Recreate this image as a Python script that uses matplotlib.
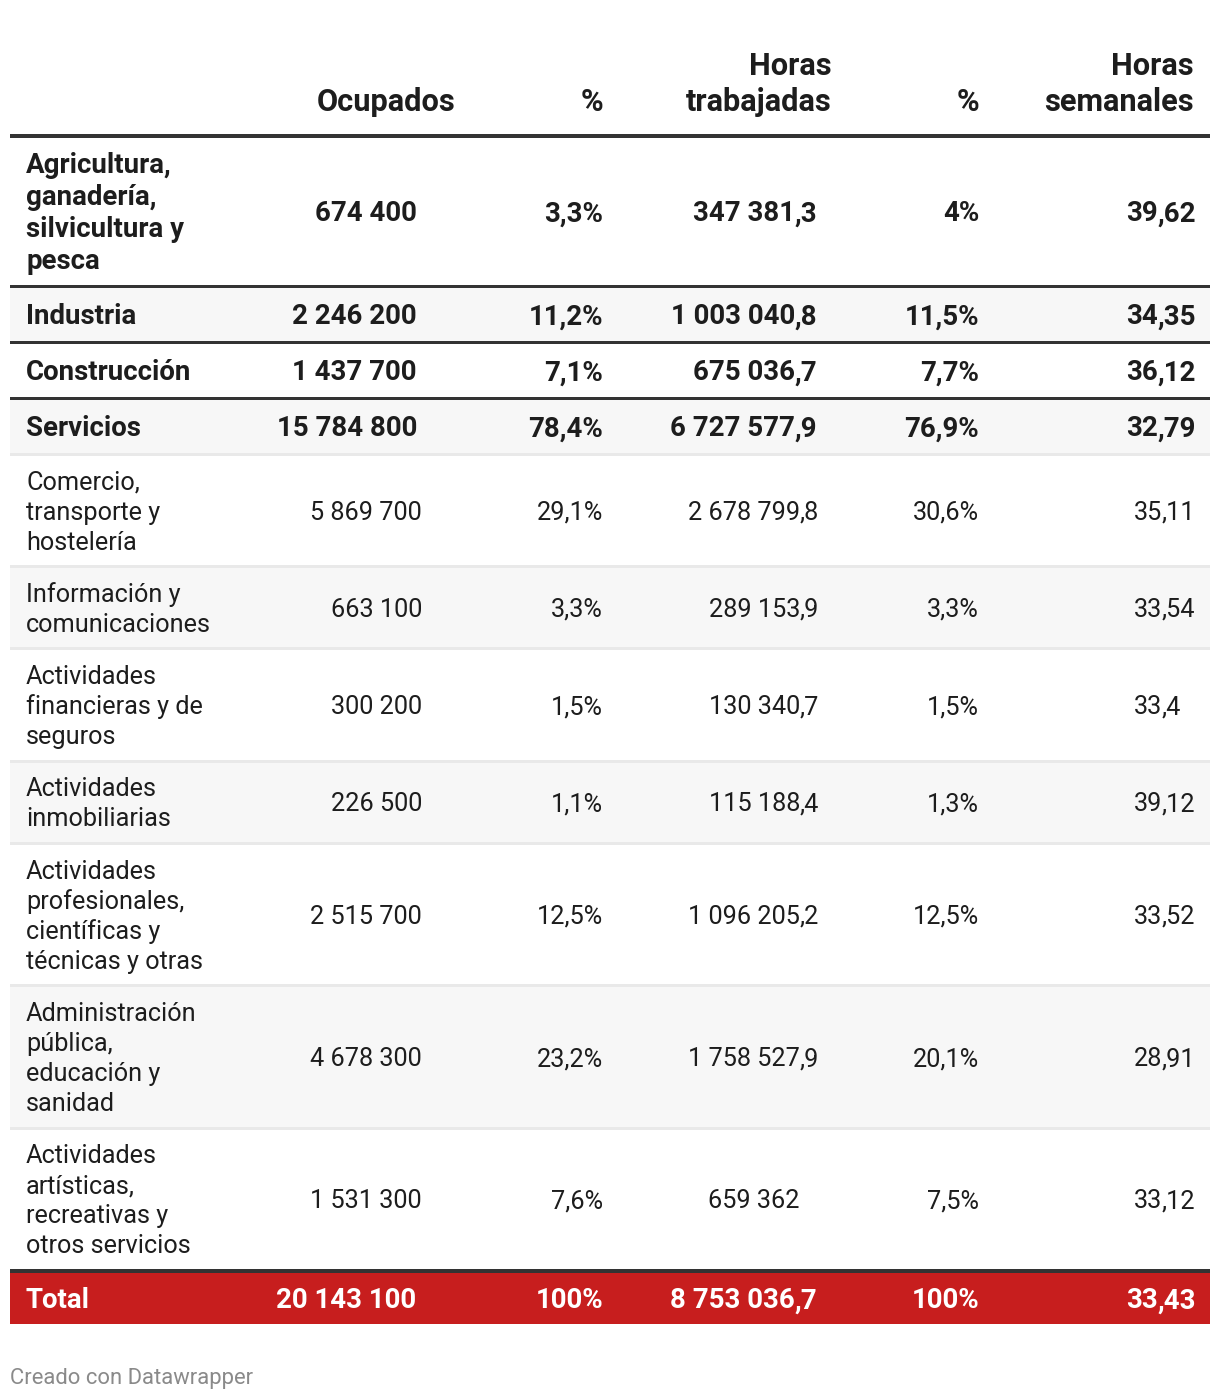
import matplotlib
matplotlib.use("Agg")
import matplotlib.pyplot as plt
from matplotlib.patches import Rectangle

# ---------------- data ----------------
sectores = [
    "Agricultura,\nganadería,\nsilvicultura y\npesca",
    "Industria",
    "Construcción",
    "Servicios",
    "Comercio,\ntransporte y\nhostelería",
    "Información y\ncomunicaciones",
    "Actividades\nfinancieras y de\nseguros",
    "Actividades\ninmobiliarias",
    "Actividades\nprofesionales,\ncientíficas y\ntécnicas y otras",
    "Administración\npública,\neducación y\nsanidad",
    "Actividades\nartísticas,\nrecreativas y\notros servicios",
]
es_sector = [True, True, True, True, False, False, False, False, False, False, False]
ocupados = [674400, 2246200, 1437700, 15784800, 5869700, 663100, 300200, 226500,
            2515700, 4678300, 1531300]
pct_ocupados = [3.3, 11.2, 7.1, 78.4, 29.1, 3.3, 1.5, 1.1, 12.5, 23.2, 7.6]
horas_trabajadas = [347381.3, 1003040.8, 675036.7, 6727577.9, 2678799.8, 289153.9,
                    130340.7, 115188.4, 1096205.2, 1758527.9, 659362]
pct_horas = [4, 11.5, 7.7, 76.9, 30.6, 3.3, 1.5, 1.3, 12.5, 20.1, 7.5]
horas_semanales = [39.62, 34.35, 36.12, 32.79, 35.11, 33.54, 33.4, 39.12, 33.52,
                   28.91, 33.12]
total_label = "Total"
total_values = [20143100, 100, 8753036.7, 100, 33.43]
headers = ["Ocupados", "%", "Horas\ntrabajadas", "%", "Horas\nsemanales"]
footer = "Creado con Datawrapper"


def fmt(v):
    s = f"{v:,.2f}"
    if "." in s:
        s = s.rstrip("0").rstrip(".")
    return s.replace(",", " ").replace(".", ",")


# ---------------- style ----------------
FONT = "Roboto"
TXT = "#1d1d1d"
RULE = "#333333"
GRAY_BG = "#f7f7f7"
LIGHT_SEP = "#e9e9e9"
RED = "#c71e1e"

PX = 72 / 100  # px -> pt at dpi 100
FS_HEAD = 30.8 * PX
FS_BOLD = 27.6 * PX
FS_REG = 25.2 * PX
CAP = 0.711

fig = plt.figure(figsize=(12.2, 14), dpi=100)
ax = fig.add_axes([0, 0, 1, 1])
ax.set_xlim(0, 1220)
ax.set_ylim(1400, 0)
ax.axis("off")

X0, X1 = 10, 1210
LABEL_X = 26


def rect(y0, y1, color, z=1):
    ax.add_patch(Rectangle((X0, y0), X1 - X0, y1 - y0, facecolor=color,
                           edgecolor="none", zorder=z))


def put_lines(x, yc, text, fs, weight, ha, color=TXT, lh=30):
    lines = text.split("\n")
    n = len(lines)
    for i, ln in enumerate(lines):
        c = yc + (i - (n - 1) / 2) * lh
        base = c + CAP * fs / PX / 2
        ax.text(x, base, ln, fontsize=fs, fontweight=weight, ha=ha,
                va="baseline", color=color, family=FONT)


def put_dec(xdec, base, s, fs, weight, color=TXT):
    if "," in s:
        ip, dp = s.split(",")
        ax.text(xdec, base, ip, fontsize=fs, fontweight=weight, ha="right",
                va="baseline", color=color, family=FONT)
        ax.text(xdec, base, "," + dp, fontsize=fs, fontweight=weight, ha="left",
                va="baseline", color=color, family=FONT)
    else:
        ax.text(xdec, base, s, fontsize=fs, fontweight=weight, ha="right",
                va="baseline", color=color, family=FONT)


# header
head_right = [455, 603, 832, 979, 1194]
for h, xr in zip(headers, head_right):
    lines = h.split("\n")
    for i, ln in enumerate(reversed(lines)):
        ax.text(xr, 111 - i * 36, ln, fontsize=FS_HEAD, fontweight="bold",
                ha="right", va="baseline", color=TXT, family=FONT)
rect(134, 138, RULE, 3)

# body
y = 138
for i, lab in enumerate(sectores):
    n = lab.count("\n") + 1
    bold = es_sector[i]
    if bold:
        h = 21.7 + 31.3 * n
        lh = 32
        fs = FS_BOLD
        w = "bold"
    else:
        h = 19.3 + 30 * n
        lh = 30
        fs = FS_REG
        w = "normal"
    y0, y1 = y, y + h
    if i % 2 == 1:
        rect(y0, y1, GRAY_BG, 1)
    yc = (y0 + y1) / 2
    put_lines(LABEL_X, yc, lab, fs, w, "left", lh=lh)
    base = yc + CAP * fs / PX / 2
    put_dec(417 if bold else 422, base, fmt(ocupados[i]), fs, w)
    ax.text(603, base, fmt(pct_ocupados[i]) + "%", fontsize=fs, fontweight=w,
            ha="right", va="baseline", color=TXT, family=FONT)
    put_dec(795 if bold else 800, base, fmt(horas_trabajadas[i]), fs, w)
    ax.text(979, base, fmt(pct_horas[i]) + "%", fontsize=fs, fontweight=w,
            ha="right", va="baseline", color=TXT, family=FONT)
    put_dec(1158 if bold else 1162, base, fmt(horas_semanales[i]), fs, w)
    # separator
    if i == len(sectores) - 1:
        rect(y1, y1 + 4, RULE, 3)
        y = y1 + 4
    elif bold and es_sector[i + 1]:
        rect(y1, y1 + 3, RULE, 3)
        y = y1 + 3
    else:
        rect(y1, y1 + 3, LIGHT_SEP, 2)
        y = y1 + 3

# total row
t0, t1 = y, y + 51
rect(t0, t1, RED, 1)
yc = (t0 + t1) / 2
base = yc + CAP * FS_BOLD / PX / 2
ax.text(LABEL_X, base, total_label, fontsize=FS_BOLD, fontweight="bold", ha="left",
        va="baseline", color="white", family=FONT)
put_dec(416, base, fmt(total_values[0]), FS_BOLD, "bold", "white")
ax.text(603, base, fmt(total_values[1]) + "%", fontsize=FS_BOLD, fontweight="bold",
        ha="right", va="baseline", color="white", family=FONT)
put_dec(795, base, fmt(total_values[2]), FS_BOLD, "bold", "white")
ax.text(979, base, fmt(total_values[3]) + "%", fontsize=FS_BOLD, fontweight="bold",
        ha="right", va="baseline", color="white", family=FONT)
put_dec(1158, base, fmt(total_values[4]), FS_BOLD, "bold", "white")

# footer
ax.text(10, 1384, footer, fontsize=22 * PX, color="#8a8a8a", ha="left",
        va="baseline", family=FONT)

fig.savefig("out.png", dpi=100, facecolor="white")
